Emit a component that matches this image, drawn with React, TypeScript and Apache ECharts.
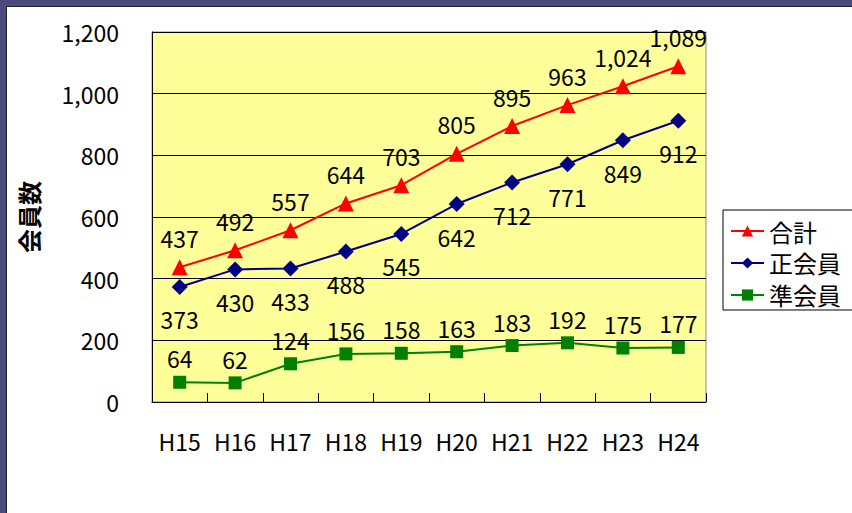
import React, { useEffect, useRef } from "react";
import * as echarts from "echarts";

const categories = ["H15", "H16", "H17", "H18", "H19", "H20", "H21", "H22", "H23", "H24"];
const totalValues = [437, 492, 557, 644, 703, 805, 895, 963, 1024, 1089];
const regularValues = [373, 430, 433, 488, 545, 642, 712, 771, 849, 912];
const associateValues = [64, 62, 124, 156, 158, 163, 183, 192, 175, 177];
const seriesNames = ["合計", "正会員", "準会員"];
const axisTitle = "会員数";

const FONT = "'Noto Sans CJK JP', 'Noto Sans', sans-serif";

export default function App() {
  const ref = useRef<HTMLDivElement>(null);
  useEffect(() => {
    document.body.style.margin = "0";
    const chart = echarts.init(ref.current!, undefined, { renderer: "svg" });
    const fmt = (v: number) => v.toLocaleString("en-US");
    const labelBase = {
      show: true,
      color: "#000",
      fontSize: 23,
      fontFamily: FONT,
      formatter: (p: any) => fmt(p.value),
    };
    chart.setOption({
      animation: false,
      backgroundColor: "#fff",
      textStyle: { fontFamily: FONT },
      graphic: [
        { type: "rect", shape: { x: 0, y: 0, width: 852, height: 6 }, style: { fill: "#4b4b7d" }, z: 100 },
        { type: "rect", shape: { x: 0, y: 0, width: 6, height: 513 }, style: { fill: "#4b4b7d" }, z: 100 },
        { type: "line", shape: { x1: 6, y1: 6.5, x2: 852, y2: 6.5 }, style: { stroke: "#222", lineWidth: 1 }, z: 100 },
        { type: "line", shape: { x1: 6.5, y1: 6, x2: 6.5, y2: 513 }, style: { stroke: "#222", lineWidth: 1 }, z: 100 },
      ],
      grid: {
        left: 152,
        right: 146,
        top: 32,
        bottom: 111,
        show: true,
        backgroundColor: "#ffff99",
        borderColor: "#909070",
        borderWidth: 1,
      },
      legend: {
        orient: "vertical",
        left: 723,
        top: 210,
        padding: [9, 16, 3, 7],
        itemGap: 8,
        itemWidth: 33,
        itemHeight: 14,
        borderColor: "#000",
        borderWidth: 1,
        backgroundColor: "#fff",
        textStyle: { fontSize: 24, color: "#000", fontFamily: FONT },
        data: seriesNames,
      },
      xAxis: {
        type: "category",
        data: categories,
        boundaryGap: true,
        axisLine: { show: true, lineStyle: { color: "#000", width: 1 } },
        axisTick: { show: true, inside: true, length: 9, interval: 0, lineStyle: { color: "#000" } },
        axisLabel: { color: "#000", fontSize: 23, margin: 27, interval: 0, fontFamily: FONT },
        splitLine: { show: false },
      },
      yAxis: {
        type: "value",
        min: 0,
        max: 1200,
        interval: 200,
        name: axisTitle,
        nameLocation: "middle",
        nameRotate: 90,
        nameGap: 112,
        nameTextStyle: { fontSize: 24, color: "#000", fontWeight: "bold", fontFamily: FONT },
        axisLine: { show: true, lineStyle: { color: "#000", width: 1 } },
        axisTick: { show: true, inside: true, length: 8, lineStyle: { color: "#000" } },
        axisLabel: { color: "#000", fontSize: 23, margin: 33, fontFamily: FONT, formatter: (v: number) => fmt(v) },
        splitLine: { show: true, lineStyle: { color: "#000", width: 1 } },
      },
      series: [
        {
          name: seriesNames[0],
          type: "line",
          data: totalValues,
          symbol: "triangle",
          symbolSize: 16,
          itemStyle: { color: "#ff0000" },
          lineStyle: { color: "#ff0000", width: 2 },
          label: { ...labelBase, position: "top", distance: 10 },
        },
        {
          name: seriesNames[1],
          type: "line",
          data: regularValues,
          symbol: "diamond",
          symbolSize: 16,
          itemStyle: { color: "#000080" },
          lineStyle: { color: "#000080", width: 2 },
          label: { ...labelBase, position: "bottom", distance: 13 },
        },
        {
          name: seriesNames[2],
          type: "line",
          data: associateValues,
          symbol: "rect",
          symbolSize: 13,
          itemStyle: { color: "#008000" },
          lineStyle: { color: "#008000", width: 2 },
          label: { ...labelBase, position: "top", distance: 6 },
        },
      ],
    });
    return () => chart.dispose();
  }, []);
  return <div ref={ref} style={{ position: "fixed", left: 0, top: 0, width: 852, height: 513 }} />;
}
